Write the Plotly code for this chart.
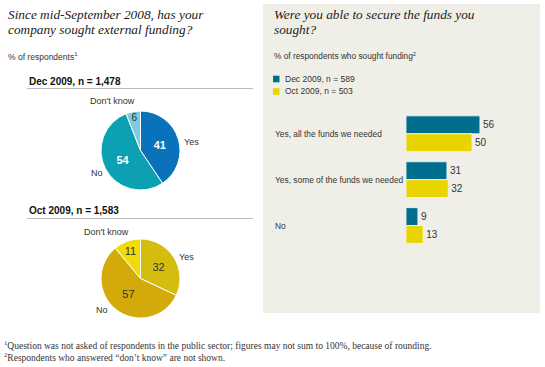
import plotly.graph_objects as go

W, H = 545, 367

# ---- data ----
pie_labels = ["Yes", "No", "Don't know"]
dec_pie_values = [41, 54, 6]
oct_pie_values = [32, 57, 11]
dec_pie_colors = ["#0A72BA", "#0BA0B2", "#7ACDE0"]
oct_pie_colors = ["#D5BD10", "#D4A90A", "#F0DC08"]

bar_categories = ["Yes, all the funds we needed", "Yes, some of the funds we needed", "No"]
dec_bar_values = [56, 31, 9]
oct_bar_values = [50, 32, 13]
dec_bar_label = "Dec 2009, n = 589"
oct_bar_label = "Oct 2009, n = 503"
dec_bar_color = "#006E8F"
oct_bar_color = "#E8D400"

NARROW = "Liberation Sans Narrow, Arial Narrow, Liberation Sans, Arial, sans-serif"
SERIF = "Liberation Serif, Georgia, serif"
TXT = "#333333"


def px(x):
    return x / W


def py(y):
    return 1 - y / H


fig = go.Figure()

# Pies
fig.add_trace(go.Pie(
    labels=pie_labels, values=dec_pie_values, sort=False, direction="clockwise",
    rotation=0, marker=dict(colors=dec_pie_colors, line=dict(color="white", width=1)),
    domain=dict(x=[px(101), px(180)], y=[py(190), py(111)]),
    textinfo="value", textposition="inside", insidetextorientation="horizontal",
    texttemplate=["<b>%{value}</b>", "<b>%{value}</b>", "%{value}"],
    insidetextfont=dict(family=NARROW, size=11, color=["white", "white", TXT]),
    showlegend=False, hoverinfo="label+value",
))
fig.add_trace(go.Pie(
    labels=pie_labels, values=oct_pie_values, sort=False, direction="clockwise",
    rotation=0, marker=dict(colors=oct_pie_colors, line=dict(color="white", width=1)),
    domain=dict(x=[px(101), px(180)], y=[py(318), py(239)]),
    textinfo="value", textposition="inside", insidetextorientation="horizontal",
    insidetextfont=dict(family=NARROW, size=11, color=[TXT, TXT, TXT]),
    showlegend=False, hoverinfo="label+value",
))

# Bars
fig.add_trace(go.Bar(
    y=bar_categories, x=dec_bar_values, orientation="h", name=dec_bar_label,
    marker=dict(color=dec_bar_color, line=dict(color="#F7F6F1", width=0.8)),
    text=dec_bar_values, textposition="outside", cliponaxis=False,
    textfont=dict(family=NARROW, size=10, color=TXT), showlegend=False,
))
fig.add_trace(go.Bar(
    y=bar_categories, x=oct_bar_values, orientation="h", name=oct_bar_label,
    marker=dict(color=oct_bar_color, line=dict(color="#F7F6F1", width=0.8)),
    text=oct_bar_values, textposition="outside", cliponaxis=False,
    textfont=dict(family=NARROW, size=10, color=TXT), showlegend=False,
))

fig.update_layout(
    width=W, height=H, margin=dict(l=0, r=0, t=0, b=0),
    paper_bgcolor="white", plot_bgcolor="rgba(0,0,0,0)",
    barmode="group", bargap=0.22, bargroupgap=0,
    xaxis=dict(domain=[px(406), px(538)], range=[0, 100], visible=False, fixedrange=True),
    yaxis=dict(domain=[py(248.5), py(110.8)], autorange="reversed", visible=False,
               categoryorder="array", categoryarray=bar_categories, fixedrange=True),
    font=dict(family=NARROW, color=TXT),
)

shapes = []
# grey panel
shapes.append(dict(type="rect", xref="paper", yref="paper", x0=px(263), x1=px(540),
                   y0=py(313), y1=py(4), fillcolor="#F0EFE7", line=dict(width=0), layer="below"))
# header rules
for yy in (88.5, 218.5):
    shapes.append(dict(type="line", xref="paper", yref="paper", x0=px(27), x1=px(253),
                       y0=py(yy), y1=py(yy), line=dict(color="#BBBBBB", width=1)))
# legend squares
for yy, col in ((79, dec_bar_color), (91.5, oct_bar_color)):
    shapes.append(dict(type="rect", xref="paper", yref="paper", x0=px(273), x1=px(279.5),
                       y0=py(yy + 3.3), y1=py(yy - 3.3), fillcolor=col, line=dict(width=0)))
fig.update_layout(shapes=shapes)

ann = []


def add(text, x, y, size, family=NARROW, color=TXT, xanchor="left", yanchor="middle",
        style="normal", weight="normal", yref="paper"):
    ann.append(dict(text=text, x=px(x), y=(py(y) if yref == "paper" else y), xref="paper", yref=yref,
                    showarrow=False, xanchor=xanchor, yanchor=yanchor, align="left",
                    font=dict(family=family, size=size, color=color, style=style, weight=weight)))


# Titles
add("Since mid-September 2008, has your", 6, 14, 13.3, family=SERIF, color="#222222", style="italic")
add("company sought external funding?", 6, 30, 13.3, family=SERIF, color="#222222", style="italic")
add("Were you able to secure the funds you", 272, 14, 13.3, family=SERIF, color="#222222", style="italic")
add("sought?", 272, 30, 13.3, family=SERIF, color="#222222", style="italic")
add("% of respondents<sup>1</sup>", 6, 56, 8.5)
add("% of respondents who sought funding<sup>2</sup>", 272, 56, 8.3)
# legend text
add(dec_bar_label, 283, 79, 8.5)
add(oct_bar_label, 283, 91.5, 8.5)
# pie headers
add("Dec 2009, n = 1,478", 27, 82, 10, color="#111111", weight="bold")
add("Oct 2009, n = 1,583", 27, 210, 10, color="#111111", weight="bold")
# pie category labels
add("Don't know", 112, 101, 9, xanchor="center")
add("Yes", 182, 142, 9)
add("No", 97, 173, 9, xanchor="center")
add("Don't know", 106, 232, 9, xanchor="center")
add("Yes", 177, 257, 9)
add("No", 102, 310, 9, xanchor="center")
# bar category labels
for c in bar_categories:
    add(c, 273, c, 8.4, yref="y")
# footnotes
add("<sup>1</sup>Question was not asked of respondents in the public sector; figures may not sum to 100%, because of rounding.",
    2, 345, 9.5, family=SERIF)
add("<sup>2</sup>Respondents who answered \u201cdon\u2019t know\u201d are not shown.", 2, 357, 9.5, family=SERIF)

fig.update_layout(annotations=ann)
fig.write_html("out.html", config={"displayModeBar": False},
               post_script="document.body.style.margin='0';document.body.style.overflow='hidden';")
